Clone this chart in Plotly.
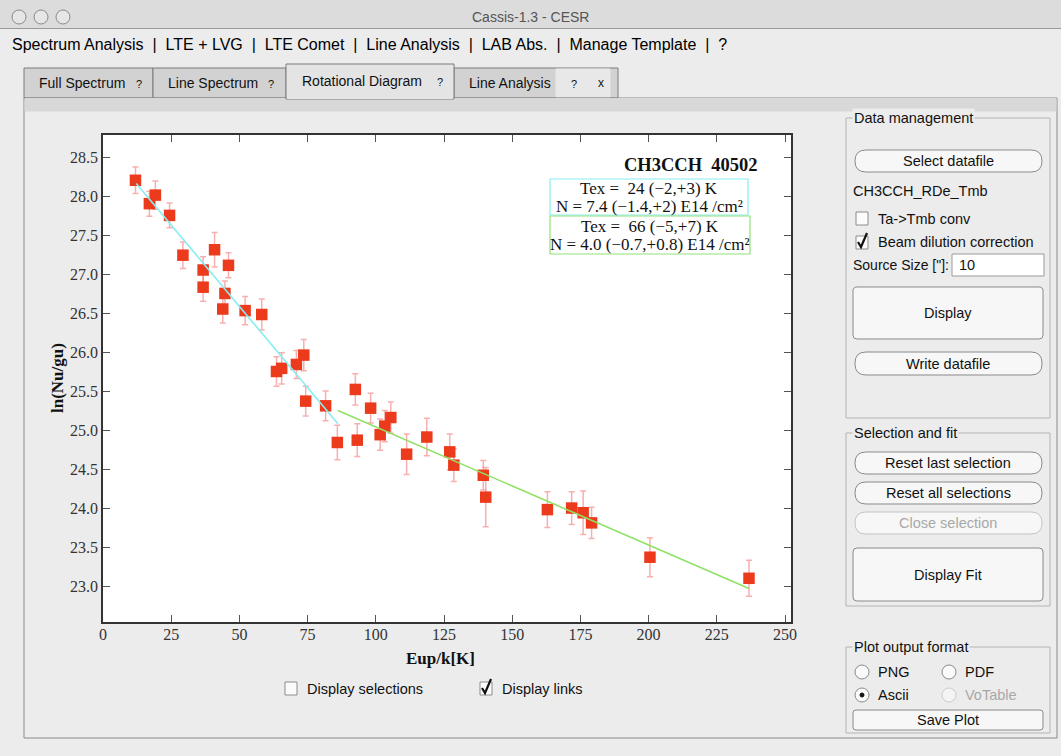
import plotly.graph_objects as go

# ---------------- data ----------------
E_up = [11.9, 17.0, 19.2, 24.4, 29.3, 36.7, 36.7, 40.9, 43.9, 44.7, 46.0, 52.1, 58.2,
        63.6, 65.5, 70.9, 73.6, 74.3, 81.6, 85.9, 92.5, 93.2, 98.1, 101.6, 103.3, 105.5,
        111.3, 118.7, 127.1, 128.6, 139.4, 140.3, 162.9, 171.8, 176.0, 179.1, 200.5, 236.8]
ln_Nu_gu = [28.21, 27.91, 28.02, 27.76, 27.25, 27.06, 26.84, 27.32, 26.56, 26.76, 27.12, 26.54, 26.49,
            25.76, 25.80, 25.85, 25.97, 25.38, 25.32, 24.85, 25.53, 24.88, 25.29, 24.95, 25.06, 25.17,
            24.70, 24.92, 24.73, 24.56, 24.43, 24.15, 23.99, 24.01, 23.95, 23.82, 23.38, 23.11]
ln_err = [0.17, 0.16, 0.18, 0.16, 0.17, 0.17, 0.18, 0.22, 0.18, 0.16, 0.16, 0.18, 0.20,
          0.19, 0.20, 0.18, 0.20, 0.19, 0.19, 0.22, 0.20, 0.21, 0.19, 0.20, 0.20, 0.20,
          0.26, 0.24, 0.23, 0.21, 0.19, 0.38, 0.23, 0.21, 0.28, 0.20, 0.25, 0.23]

fit1_E = [12.2, 86.1]
fit1_ln = [28.17, 25.09]
fit2_E = [86.1, 236.8]
fit2_ln = [25.26, 22.98]

x_ticks = [0, 25, 50, 75, 100, 125, 150, 175, 200, 225, 250]
y_ticks = [23.0, 23.5, 24.0, 24.5, 25.0, 25.5, 26.0, 26.5, 27.0, 27.5, 28.0, 28.5]

chart_title = "CH3CCH  40502"
fit1_lines = ["Tex =  24 (−2,+3) K", "N = 7.4 (−1.4,+2) E14 /cm²"]
fit2_lines = ["Tex =  66 (−5,+7) K", "N = 4.0 (−0.7,+0.8) E14 /cm²"]
x_title = "Eup/k[K]"
y_title = "ln(Nu/gu)"

# ---------------- geometry helpers ----------------
W, H = 1061, 756
L, R, T, B = 103, 791, 135, 622


def X(px):
    return (px - L) / (R - L)


def Y(py):
    return (B - py) / (B - T)


shapes = []
annots = []
GUI = "Liberation Sans, Arial, sans-serif"
SERIF = "Liberation Serif, Times New Roman, serif"
FS = 14.5


def rect(x0, y0, x1, y1, fill="rgba(0,0,0,0)", line="#999", w=1, layer="below"):
    shapes.append(dict(type="rect", xref="paper", yref="paper", x0=X(x0), x1=X(x1),
                       y0=Y(y1), y1=Y(y0), fillcolor=fill,
                       line=dict(color=line, width=w), layer=layer))


def line(x0, y0, x1, y1, color="#999", w=1, layer="below"):
    shapes.append(dict(type="line", xref="paper", yref="paper", x0=X(x0), x1=X(x1),
                       y0=Y(y0), y1=Y(y1), line=dict(color=color, width=w), layer=layer))


def circle(cx, cy, r, fill="#fff", lc="#888", w=1):
    shapes.append(dict(type="circle", xref="paper", yref="paper", x0=X(cx - r), x1=X(cx + r),
                       y0=Y(cy + r), y1=Y(cy - r), fillcolor=fill,
                       line=dict(color=lc, width=w), layer="below"))


def rrect(x0, y0, x1, y1, r, fill="#f6f6f6", lc="#8a8a8a", w=1):
    def p(x, y):
        return f"{X(x):.5f},{Y(y):.5f}"
    path = (f"M {p(x0 + r, y0)} L {p(x1 - r, y0)} Q {p(x1, y0)} {p(x1, y0 + r)} "
            f"L {p(x1, y1 - r)} Q {p(x1, y1)} {p(x1 - r, y1)} L {p(x0 + r, y1)} "
            f"Q {p(x0, y1)} {p(x0, y1 - r)} L {p(x0, y0 + r)} Q {p(x0, y0)} {p(x0 + r, y0)} Z")
    shapes.append(dict(type="path", xref="paper", yref="paper", path=path, fillcolor=fill,
                       line=dict(color=lc, width=w), layer="below"))


def text(x, y, s, size=FS, color="#111", anchor="left", family=GUI, bg=None, angle=0):
    a = dict(x=X(x), y=Y(y), xref="paper", yref="paper", text=s, showarrow=False,
             xanchor=anchor, yanchor="middle", textangle=angle,
             font=dict(family=family, size=size, color=color))
    if bg:
        a["bgcolor"] = bg
    annots.append(a)


def checkbox(x0, y0, checked=False):
    rect(x0, y0, x0 + 12, y0 + 13, fill="#fbfbfb", line="#8c8c8c")
    if checked:
        path = (f"M {X(x0 + 2):.5f},{Y(y0 + 6):.5f} L {X(x0 + 5):.5f},{Y(y0 + 11):.5f} "
                f"L {X(x0 + 11):.5f},{Y(y0 - 3):.5f}")
        shapes.append(dict(type="path", xref="paper", yref="paper", path=path,
                           line=dict(color="#111", width=2.2), layer="below"))


def button(x0, y0, x1, y1, label, r=11, color="#111", lc="#8a8a8a", size=FS):
    rrect(x0, y0, x1, y1, r, fill="#f7f7f7", lc=lc)
    text((x0 + x1) / 2, (y0 + y1) / 2, label, size=size, color=color, anchor="center")


BG = "#ececec"

# ---------------- window chrome ----------------
rect(0, 0, W, 28, fill="#dcdcdc", line="#dcdcdc")
line(0, 28.5, W, 28.5, color="#9a9a9a")
for cx in (19, 41, 63):
    circle(cx, 17, 7, fill="#e6e6e6", lc="#8a8a8a")
text(530, 17, "Cassis-1.3 - CESR", size=14, color="#555", anchor="center")
text(10, 44, "Spectrum Analysis  |  LTE + LVG  |  LTE Comet  |  Line Analysis  |  LAB Abs.  |  Manage Template  |  ?",
     size=16, color="#000")

# tabs
rect(24, 68, 153, 98, fill="#d2d2d2", line="#7a7a7a")
text(37, 83, "Full Spectrum", size=14)
text(134, 84, "?", size=11)
rect(153, 68, 286, 98, fill="#d2d2d2", line="#7a7a7a")
text(166, 83, "Line Spectrum", size=14)
text(266, 84, "?", size=11)
rect(454, 68, 618, 98, fill="#d2d2d2", line="#7a7a7a")
rect(556, 69, 610, 97, fill="#e8e8e8", line="#e8e8e8")
text(467, 83, "Line Analysis", size=14)
text(569, 84, "?", size=11)
text(596, 83, "x", size=12)
# content panel (outline only so the white plot area stays visible)
rect(24, 98, 1057, 738, line="#8a8a8a")
rect(25, 98.5, 1056, 111, fill="#d8d8d8", line="#d8d8d8")
rect(286, 64, 454, 99, fill="#e4e4e4", line="#7a7a7a")
line(287, 98, 453, 98, color="#e4e4e4", w=2)
text(300, 81, "Rotational Diagram", size=14)
text(435, 82, "?", size=11)

# ---------------- right panel ----------------
rect(846, 118, 1050, 418, line="#b4b4b4")
text(852, 118, "Data management", bg=BG)
button(855, 150, 1042, 172, "Select datafile")
text(851, 191, "CH3CCH_RDe_Tmb")
checkbox(856, 212)
text(876, 219, "Ta->Tmb conv")
checkbox(856, 236, checked=True)
text(876, 242, "Beam dilution correction")
text(851, 265, "Source Size [\"]:", size=14)
rect(952, 254, 1044, 276, fill="#ffffff", line="#9a9a9a")
text(957, 265, "10")
button(853, 287, 1043, 339, "Display", r=4)
button(855, 352, 1042, 375, "Write datafile")

rect(846, 433, 1050, 606, line="#b4b4b4")
text(852, 433, "Selection and fit", bg=BG)
button(855, 452, 1042, 474, "Reset last selection")
button(855, 482, 1042, 504, "Reset all selections")
button(855, 512, 1042, 534, "Close selection", color="#a8a8a8", lc="#c4c4c4")
button(853, 548, 1043, 601, "Display Fit", r=4)

rect(846, 647, 1050, 733, line="#b4b4b4")
text(852, 647, "Plot output format", bg=BG)
circle(862, 672, 7, fill="#fafafa", lc="#8a8a8a")
text(876, 672, "PNG")
circle(949, 672, 7, fill="#fafafa", lc="#8a8a8a")
text(963, 672, "PDF")
circle(862, 695, 7, fill="#fafafa", lc="#8a8a8a")
circle(862, 695, 2, fill="#111", lc="#111")
text(876, 695, "Ascii")
circle(949, 695, 7, fill="#f4f4f4", lc="#cccccc")
text(963, 695, "VoTable", color="#a8a8a8")
button(853, 710, 1043, 730, "Save Plot", r=3)

# bottom checkboxes
checkbox(285, 682)
text(305, 689, "Display selections")
checkbox(480, 682, checked=True)
text(500, 689, "Display links")

# ---------------- chart annotations ----------------
text(760, 165, f"<b>{chart_title}</b>", size=18.5, color="#111", anchor="right", family=SERIF)
rect(550, 179, 748, 215, line="#86eef2", w=1.2, layer="above")
text(649, 188, fit1_lines[0], size=17, color="#111", anchor="center", family=SERIF)
text(649, 206, fit1_lines[1], size=17, color="#111", anchor="center", family=SERIF)
rect(550, 216, 750, 254, line="#90e27a", w=1.2, layer="above")
text(650, 226, fit2_lines[0], size=17, color="#111", anchor="center", family=SERIF)
text(650, 244, fit2_lines[1], size=17, color="#111", anchor="center", family=SERIF)
text(440, 658, f"<b>{x_title}</b>", size=17, color="#111", anchor="center", family=SERIF)
text(57, 378, f"<b>{y_title}</b>", size=17, color="#111", anchor="center", family=SERIF, angle=-90)

# ---------------- traces ----------------
fig = go.Figure()
fig.add_trace(go.Scatter(
    x=E_up, y=ln_Nu_gu, mode="markers",
    marker=dict(symbol="square", size=11.5, color="#ec3a1c", line=dict(width=0)),
    error_y=dict(type="data", array=ln_err, visible=True, color="rgba(240,110,110,0.55)",
                 thickness=1.5, width=3),
    showlegend=False, hoverinfo="x+y"))
fig.add_trace(go.Scatter(x=fit1_E, y=fit1_ln, mode="lines",
                         line=dict(color="#86eef2", width=1.6), showlegend=False))
fig.add_trace(go.Scatter(x=fit2_E, y=fit2_ln, mode="lines",
                         line=dict(color="#8ee264", width=1.6), showlegend=False))

axis_common = dict(showline=True, linecolor="#333", linewidth=1.5, mirror="ticks",
                   ticks="inside", ticklen=7, tickwidth=1.2, tickcolor="#555",
                   showgrid=False, zeroline=False,
                   tickfont=dict(family=SERIF, size=16, color="#333"))
fig.update_layout(
    width=W, height=H, autosize=False,
    margin=dict(l=L, r=W - R, t=T, b=H - B, pad=0),
    paper_bgcolor=BG, plot_bgcolor="#ffffff",
    xaxis=dict(range=[0, 252.2], tickvals=x_ticks, ticklabelstandoff=-3, **axis_common),
    yaxis=dict(range=[22.55, 28.79], tickvals=y_ticks, tickformat=".1f", **axis_common),
    shapes=shapes, annotations=annots,
)
fig.write_html("out.html", config={"displayModeBar": False},
               post_script="document.body.style.margin='0';document.body.style.overflow='hidden';")
